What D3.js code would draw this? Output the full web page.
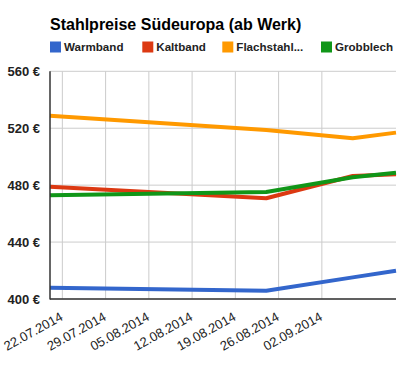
<!DOCTYPE html>
<html>
<head>
<meta charset="utf-8">
<script src="https://cdn.jsdelivr.net/npm/d3@7"></script>
<style>
  body { margin: 0; background: #fff; }
  text { font-family: Arial, "Liberation Sans", sans-serif; }
</style>
</head>
<body>
<svg id="chart" width="418" height="371"></svg>
<script>
// data
var dates = ["2014-07-20", "2014-08-24", "2014-09-07", "2014-09-14"];
var seriesNames = ["Warmband", "Kaltband", "Flachstahl...", "Grobblech"];
var warmband = [407.9, 405.8, 415.2, 419.9];
var kaltband = [478.9, 470.8, 486.4, 487.6];
var flachstahl = [528.8, 518.7, 512.9, 516.9];
var grobblech = [472.9, 475.2, 485.5, 488.7];
var colors = ["#3366cc", "#dc3912", "#ff9900", "#109618"];
var yTicks = [400, 440, 480, 520, 560];
var xTicks = ["2014-07-22", "2014-07-29", "2014-08-05", "2014-08-12", "2014-08-19", "2014-08-26", "2014-09-02"];

var parse = d3.timeParse("%Y-%m-%d");
var fmt = d3.timeFormat("%d.%m.%Y");

var svg = d3.select("#chart");
// plot box (window.top is reserved, so own names)
var plotLeft = 50, plotRight = 396, plotTop = 71.3, plotBottom = 299;

var x = d3.scaleTime()
  .domain([parse(dates[0]), parse(dates[dates.length - 1])])
  .range([plotLeft, plotRight]);
var y = d3.scaleLinear().domain([400, 560]).range([plotBottom, plotTop]);

var allSeries = [warmband, kaltband, flachstahl, grobblech];

// title
svg.append("text")
  .attr("x", 50).attr("y", 29.5)
  .attr("font-size", 16).attr("font-weight", "bold")
  .attr("fill", "#000")
  .text("Stahlpreise Südeuropa (ab Werk)");

// legend
var legendX = [50, 142.3, 222.3, 321];
var legend = svg.selectAll(".leg").data(seriesNames).enter().append("g")
  .attr("transform", function (d, i) { return "translate(" + legendX[i] + ",41.5)"; });
legend.append("rect").attr("width", 11).attr("height", 11)
  .attr("fill", function (d, i) { return colors[i]; });
legend.append("text").attr("x", 14).attr("y", 9.7)
  .attr("font-size", 11.6).attr("font-weight", "bold").attr("fill", "#222")
  .text(function (d) { return d; });

// gridlines
svg.append("g").selectAll("line").data(yTicks).enter().append("line")
  .attr("x1", plotLeft).attr("x2", plotRight)
  .attr("y1", function (d) { return y(d); }).attr("y2", function (d) { return y(d); })
  .attr("stroke", "#cccccc");
svg.append("g").selectAll("line").data(xTicks).enter().append("line")
  .attr("x1", function (d) { return x(parse(d)); }).attr("x2", function (d) { return x(parse(d)); })
  .attr("y1", plotTop).attr("y2", plotBottom)
  .attr("stroke", "#cccccc");

// y axis labels
var yAxis = svg.append("g").attr("transform", "translate(" + plotLeft + ",0)")
  .call(d3.axisLeft(y).tickValues(yTicks).tickSize(0).tickPadding(10)
    .tickFormat(function (d) { return d + " €"; }));
yAxis.select(".domain").remove();
yAxis.selectAll("text").attr("font-size", 13).attr("font-weight", "bold")
  .attr("fill", "#222").attr("font-family", "Arial, 'Liberation Sans', sans-serif");

// x axis labels
var xAxis = svg.append("g").attr("transform", "translate(0," + plotBottom + ")")
  .call(d3.axisBottom(x).tickValues(xTicks.map(parse)).tickSize(0)
    .tickFormat(fmt));
xAxis.select(".domain").remove();
xAxis.selectAll("text")
  .attr("font-size", 13).attr("fill", "#222")
  .attr("font-family", "Arial, 'Liberation Sans', sans-serif")
  .attr("text-anchor", "end")
  .attr("y", 0).attr("dy", 0)
  .attr("transform", "translate(1,20.5) rotate(-29)");

// lines
var line = d3.line()
  .x(function (d, i) { return x(parse(dates[i])); })
  .y(function (d) { return y(d); });
svg.append("g").selectAll("path").data(allSeries).enter().append("path")
  .attr("d", line)
  .attr("fill", "none")
  .attr("stroke", function (d, i) { return colors[i]; })
  .attr("stroke-width", 4)
  .attr("stroke-linejoin", "round");

// axis lines
svg.append("line").attr("x1", plotLeft).attr("x2", plotLeft).attr("y1", plotTop).attr("y2", plotBottom + 0.5)
  .attr("stroke", "#333").attr("stroke-width", 1.5);
svg.append("line").attr("x1", plotLeft).attr("x2", plotRight).attr("y1", plotBottom).attr("y2", plotBottom)
  .attr("stroke", "#333").attr("stroke-width", 1.5);
</script>
</body>
</html>
